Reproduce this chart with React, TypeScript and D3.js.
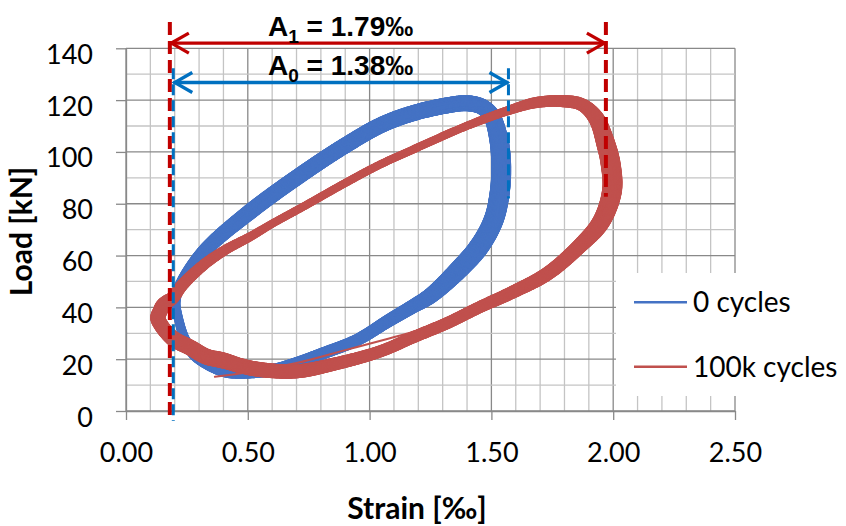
import React, { useEffect, useRef } from "react";
import * as d3 from "d3";

// strain [‰], load [kN]
const cycles0 = [
  [0.45, 14.8], [0.6, 15.8], [0.7, 18.5], [0.81, 22.3], [0.95, 27.5],
  [1.08, 35], [1.18, 40.5], [1.25, 44.5], [1.36, 54], [1.45, 63.5],
  [1.51, 74], [1.535, 85], [1.54, 95], [1.53, 105], [1.5, 114],
  [1.46, 117.5], [1.4, 118.8], [1.32, 118], [1.18, 115], [1.05, 110.5],
  [0.9, 102.5], [0.73, 92], [0.51, 77], [0.32, 61.5], [0.22, 48],
  [0.205, 42], [0.215, 36], [0.24, 28], [0.28, 22], [0.33, 18.5],
  [0.4, 15.5],
];

const cycles100k = [
  [0.55, 16], [0.7, 15.3], [0.85, 18], [1.04, 22.9], [1.18, 28.5],
  [1.32, 34], [1.45, 40], [1.59, 46], [1.73, 53], [1.86, 63.5],
  [1.95, 73], [1.995, 85], [1.99, 95], [1.97, 103], [1.93, 113],
  [1.87, 118.3], [1.79, 119.6], [1.68, 119], [1.56, 115.7], [1.385, 109.5],
  [1.18, 101], [1.04, 95], [0.9, 88], [0.73, 79], [0.6, 72.3],
  [0.51, 67.3], [0.41, 62.3], [0.32, 56.5], [0.23, 48.5], [0.19, 43.5],
  [0.165, 42], [0.15, 40.5], [0.14, 38.5], [0.13, 36], [0.145, 33],
  [0.17, 30], [0.2, 27.5], [0.263, 24.5], [0.33, 21], [0.4, 19.5],
  [0.47, 17.5],
];

// the single thin stray cycle under the 100k band
const cycles100kStray = [
  [0.365, 13.2], [0.5, 15], [0.7, 18.5], [0.9, 23.5], [1.08, 28],
  [1.18, 30.6], [1.3, 35], [1.41, 39.6], [1.59, 47.4],
];

const seriesNames = ["0 cycles", "100k cycles"];
const xTicks = [0, 0.5, 1, 1.5, 2, 2.5];
const yTicks = [0, 20, 40, 60, 80, 100, 120, 140];

// amplitude annotations: [from strain, to strain]
const amp1 = [0.18, 1.97];
const amp0 = [0.19, 1.57];
const amp1Label = ["A", "1", " = 1.79‰"];
const amp0Label = ["A", "0", " = 1.38‰"];

const W = 846;
const H = 526;
const font = "Lato, 'Open Sans', sans-serif";
const annFont = "'Liberation Sans', Arial, sans-serif";

function Chart() {
  const ref = useRef(null);

  useEffect(() => {
    document.body.style.margin = "0";
    const svg = d3.select(ref.current);
    svg.selectAll("*").remove();

    const x = d3.scaleLinear().domain([0, 2.5]).range([126, 735]);
    const y = d3.scaleLinear().domain([0, 140]).range([411, 48.3]);

    const majorCol = "#898989";
    const minorCol = "#c4c4c4";

    // grid
    const grid = svg.append("g");
    const xMinor = d3.range(0, 2.5001, 0.1);
    const yMinor = d3.range(0, 140.001, 10);
    grid
      .selectAll("line.xm")
      .data(xMinor)
      .join("line")
      .attr("x1", (d) => x(d))
      .attr("x2", (d) => x(d))
      .attr("y1", y(0))
      .attr("y2", y(140))
      .attr("stroke", (d) => (Math.abs(d / 0.5 - Math.round(d / 0.5)) < 1e-6 ? majorCol : minorCol))
      .attr("stroke-width", 1.3);
    grid
      .selectAll("line.ym")
      .data(yMinor)
      .join("line")
      .attr("x1", x(0))
      .attr("x2", x(2.5))
      .attr("y1", (d) => y(d))
      .attr("y2", (d) => y(d))
      .attr("stroke", (d) => (d % 20 === 0 ? majorCol : minorCol))
      .attr("stroke-width", 1.3);

    // legend box hides grid
    svg.append("rect").attr("x", 616).attr("y", 273).attr("width", 230).attr("height", 123).attr("fill", "white");

    // axes
    const xAxis = d3.axisBottom(x).tickValues(xTicks).tickSize(9).tickSizeOuter(0).tickFormat(d3.format(".2f"));
    const gx = svg.append("g").attr("transform", `translate(0,${y(0)})`).call(xAxis);
    gx.select(".domain").attr("stroke", majorCol).attr("stroke-width", 1.3);
    gx.selectAll(".tick line").attr("stroke", majorCol).attr("stroke-width", 1.3);
    gx.selectAll(".tick text").attr("y", 50.7).attr("dy", 0).attr("font-size", 27).attr("fill", "#000");

    const yAxis = d3.axisLeft(y).tickValues(yTicks).tickSize(10).tickSizeOuter(0);
    const gy = svg.append("g").attr("transform", `translate(${x(0)},0)`).call(yAxis);
    gy.select(".domain").attr("stroke", majorCol).attr("stroke-width", 1.3);
    gy.selectAll(".tick line").attr("stroke", majorCol).attr("stroke-width", 1.3);
    gy.selectAll(".tick text").attr("x", -33).attr("dy", 15).attr("font-size", 27).attr("fill", "#000");
    svg.selectAll(".tick text").attr("font-family", font);

    // series: each loop is a band whose thickness varies along the loop
    const closed = d3
      .line()
      .x((d) => x(d[0]))
      .y((d) => y(d[1]))
      .curve(d3.curveCatmullRomClosed);
    const open = d3
      .line()
      .x((d) => x(d[0]))
      .y((d) => y(d[1]))
      .curve(d3.curveCatmullRom);

    const blue = "#4472c4";
    const red = "#c0504d";
    const series = svg.append("g").attr("fill", "none").attr("stroke-linecap", "round");

    const band = (pts, widths, color) => {
      const tmp = series.append("path").attr("d", closed(pts));
      const node = tmp.node();
      const L = node.getTotalLength();
      const N = 900;
      const s = d3.range(N + 1).map((i) => node.getPointAtLength((L * i) / N));
      tmp.remove();
      const anchors = pts
        .map((d, k) => {
          const px = x(d[0]);
          const py = y(d[1]);
          let best = 0;
          let bd = Infinity;
          s.forEach((p, i) => {
            const dd = (p.x - px) ** 2 + (p.y - py) ** 2;
            if (dd < bd) {
              bd = dd;
              best = i;
            }
          });
          return [best, widths[k]];
        })
        .sort((a, b) => a[0] - b[0]);
      const first = anchors[0];
      const last = anchors[anchors.length - 1];
      const all = [[last[0] - N, last[1]], ...anchors, [first[0] + N, first[1]]];
      const wOf = d3.scaleLinear().domain(all.map((a) => a[0])).range(all.map((a) => a[1]));
      const g = series.append("g").attr("stroke", color);
      g.selectAll("line")
        .data(d3.range(N))
        .join("line")
        .attr("x1", (i) => s[i].x)
        .attr("y1", (i) => s[i].y)
        .attr("x2", (i) => s[i + 1].x)
        .attr("y2", (i) => s[i + 1].y)
        .attr("stroke-width", (i) => wOf(i + 0.5));
    };

    const blueW = [
      12, 12, 12, 12, 12, 13, 14, 16, 19, 20, 20, 20, 20, 19, 17, 16,
      16, 16, 16, 16, 16, 16, 16, 14, 11, 9, 9, 10, 12, 12, 12,
    ];
    const redW = [
      15, 14, 13, 12, 12, 12, 12, 13, 14, 15, 18, 20, 20, 19, 16, 13,
      12, 11, 9, 8, 8, 8, 8, 8, 8, 9, 10, 11, 12, 13, 14, 15, 15, 15,
      15, 15, 16, 16, 16, 16, 15,
    ];
    band(cycles0, blueW, blue);
    band(cycles100k, redW, red);
    series.append("path").attr("d", open(cycles100kStray)).attr("stroke", red).attr("stroke-width", 2);

    // amplitude markers
    const ann = svg.append("g");
    const dark = "#c00000";
    const mid = "#0070c0";
    ann.append("line").attr("x1", x(amp1[0])).attr("x2", x(amp1[0])).attr("y1", 22).attr("y2", 421)
      .attr("stroke", dark).attr("stroke-width", 4).attr("stroke-dasharray", "13 6");
    ann.append("line").attr("x1", x(amp1[1])).attr("x2", x(amp1[1])).attr("y1", 22).attr("y2", y(82.7))
      .attr("stroke", dark).attr("stroke-width", 4).attr("stroke-dasharray", "13 6");
    ann.append("line").attr("x1", x(amp0[0]) + 1).attr("x2", x(amp0[0]) + 1).attr("y1", y(132.3)).attr("y2", 421)
      .attr("stroke", mid).attr("stroke-width", 3).attr("stroke-dasharray", "11 5");
    ann.append("line").attr("x1", x(amp0[1])).attr("x2", x(amp0[1])).attr("y1", y(132.3)).attr("y2", y(82))
      .attr("stroke", mid).attr("stroke-width", 3).attr("stroke-dasharray", "11 5");

    const arrow = (x0, x1, yy, col) => {
      const g = ann.append("g").attr("stroke", col).attr("stroke-width", 3.3).attr("fill", "none");
      g.append("line").attr("x1", x0).attr("x2", x1).attr("y1", yy).attr("y2", yy);
      g.append("path").attr("d", `M${x0 + 19},${yy - 10}L${x0 + 1.5},${yy}L${x0 + 19},${yy + 10}`);
      g.append("path").attr("d", `M${x1 - 19},${yy - 10}L${x1 - 1.5},${yy}L${x1 - 19},${yy + 10}`);
    };
    arrow(x(amp1[0]), x(amp1[1]), y(142), dark);
    arrow(x(amp0[0]) + 1, x(amp0[1]), y(126.8), mid);

    const label = (parts, tx, ty) => {
      const t = ann.append("text").attr("x", tx).attr("y", ty)
        .attr("font-family", annFont).attr("font-weight", "bold").attr("font-size", 28).attr("fill", "#000");
      t.append("tspan").text(parts[0]);
      t.append("tspan").attr("font-size", 19).attr("dy", 7).text(parts[1]);
      t.append("tspan").attr("dy", -7).text(parts[2]);
    };
    label(amp1Label, 268, 36);
    label(amp0Label, 268, 75);

    // axis titles
    svg.append("text").attr("x", 417).attr("y", 519).attr("text-anchor", "middle")
      .attr("font-family", font).attr("font-weight", "bold").attr("font-size", 30).text("Strain [‰]");
    svg.append("text").attr("transform", "translate(32,231.5) rotate(-90)").attr("text-anchor", "middle")
      .attr("font-family", font).attr("font-weight", "bold").attr("font-size", 30).text("Load [kN]");

    // legend
    const lg = svg.append("g");
    [blue, red].forEach((c, i) => {
      const ly = 302.3 + i * 64.4;
      lg.append("line").attr("x1", 634).attr("x2", 687).attr("y1", ly).attr("y2", ly)
        .attr("stroke", c).attr("stroke-width", 2.5);
      lg.append("text").attr("x", 693).attr("y", ly).attr("dy", "0.35em")
        .attr("font-family", font).attr("font-size", 28).text(seriesNames[i]);
    });
  }, []);

  return <svg ref={ref} width={W} height={H} style={{ display: "block", background: "white" }} />;
}

export default function App() {
  return <Chart />;
}
